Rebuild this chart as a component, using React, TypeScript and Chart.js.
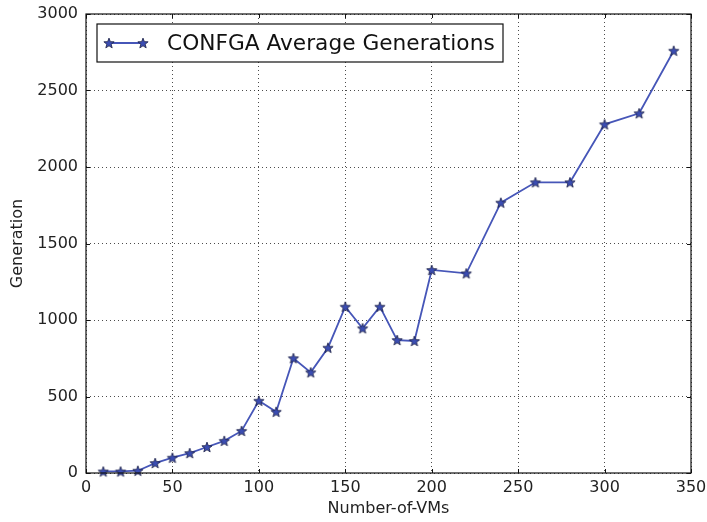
import React, { useEffect, useRef } from "react";
import { Chart, registerables } from "chart.js";

Chart.register(...registerables);

const vms = [10, 20, 30, 40, 50, 60, 70, 80, 90, 100, 110, 120, 130, 140, 150, 160, 170, 180, 190, 200, 220, 240, 260, 280, 300, 320, 340];
const generations = [10, 10, 15, 65, 100, 130, 170, 210, 275, 472, 400, 750, 658, 819, 1087, 946, 1087, 869, 863, 1327, 1305, 1767, 1900, 1900, 2279, 2351, 2760];
const seriesLabel = "CONFGA Average Generations";
const xTitle = "Number-of-VMs";
const yTitle = "Generation";
const xTicks = [0, 50, 100, 150, 200, 250, 300, 350];
const yTicks = [0, 500, 1000, 1500, 2000, 2500, 3000];

const FONT = "'DejaVu Sans', sans-serif";
const LINE_COLOR = "#4656b8";

function makeStar(): HTMLCanvasElement {
  const c = document.createElement("canvas");
  const s = 14;
  c.width = s;
  c.height = s;
  const ctx = c.getContext("2d")!;
  const cx = s / 2, cy = s / 2 + 0.5;
  const ro = 5.4, ri = 2.3;
  ctx.beginPath();
  for (let i = 0; i < 10; i++) {
    const r = i % 2 === 0 ? ro : ri;
    const a = -Math.PI / 2 + (i * Math.PI) / 5;
    const x = cx + r * Math.cos(a);
    const y = cy + r * Math.sin(a);
    if (i === 0) ctx.moveTo(x, y);
    else ctx.lineTo(x, y);
  }
  ctx.closePath();
  ctx.fillStyle = "#3b4db2";
  ctx.fill();
  ctx.lineWidth = 0.8;
  ctx.strokeStyle = "#1a1e44";
  ctx.stroke();
  return c;
}

export default function App() {
  const ref = useRef<HTMLCanvasElement>(null);
  useEffect(() => {
    const star = makeStar();
    const framePlugin = {
      id: "frame",
      afterDraw(chart: any) {
        const { ctx, chartArea: a, scales } = chart;
        ctx.save();
        ctx.strokeStyle = "#111";
        ctx.lineWidth = 1;
        ctx.beginPath();
        for (const v of xTicks) {
          const x = Math.round(scales.x.getPixelForValue(v)) + 0.5;
          ctx.moveTo(x, a.bottom);
          ctx.lineTo(x, a.bottom - 4);
          ctx.moveTo(x, a.top);
          ctx.lineTo(x, a.top + 4);
        }
        for (const v of yTicks) {
          const y = Math.round(scales.y.getPixelForValue(v)) + 0.5;
          ctx.moveTo(a.left, y);
          ctx.lineTo(a.left + 4, y);
          ctx.moveTo(a.right, y);
          ctx.lineTo(a.right - 4, y);
        }
        ctx.stroke();
        ctx.lineWidth = 1.2;
        ctx.strokeStyle = "#111";
        ctx.strokeRect(a.left, a.top, a.right - a.left, a.bottom - a.top);
        // legend
        const lx = a.left + 11, ly = a.top + 10, lw = 406, lh = 38;
        ctx.fillStyle = "#fff";
        ctx.fillRect(lx, ly, lw, lh);
        ctx.lineWidth = 1.2;
        ctx.strokeStyle = "#111";
        ctx.strokeRect(lx, ly, lw, lh);
        const my = ly + lh / 2;
        ctx.beginPath();
        ctx.strokeStyle = LINE_COLOR;
        ctx.lineWidth = 1.8;
        ctx.moveTo(lx + 12, my);
        ctx.lineTo(lx + 46, my);
        ctx.stroke();
        ctx.drawImage(star, lx + 12 - 7, my - 7);
        ctx.drawImage(star, lx + 46 - 7, my - 7);
        ctx.fillStyle = "#111";
        ctx.font = `21.7px ${FONT}`;
        ctx.textBaseline = "middle";
        ctx.textAlign = "left";
        ctx.fillText(seriesLabel, lx + 70, my + 1);
        ctx.restore();
      },
    };
    const chart = new Chart(ref.current!, {
      type: "line",
      data: {
        datasets: [
          {
            label: seriesLabel,
            data: vms.map((v, i) => ({ x: v, y: generations[i] })),
            borderColor: LINE_COLOR,
            borderWidth: 1.8,
            pointStyle: star as any,
            pointRadius: 6,
            clip: false as any,
            tension: 0,
          },
        ],
      },
      options: {
        animation: false,
        responsive: false,
        events: [],
        layout: { padding: { top: 14, right: 16, bottom: 0, left: 0 } },
        plugins: { legend: { display: false }, tooltip: { enabled: false } },
        scales: {
          x: {
            type: "linear",
            min: 0,
            max: 350,
            afterBuildTicks: (s: any) => {
              s.ticks = xTicks.map((v) => ({ value: v }));
            },
            afterFit: (s: any) => {
              s.height = 49;
              s.paddingLeft = 0;
              s.paddingRight = 0;
            },
            ticks: { font: { family: FONT, size: 16 }, color: "#222", padding: 5, maxRotation: 0, callback: (v: any) => String(v) },
            grid: { color: "rgba(0,0,0,0.7)", lineWidth: 1, drawTicks: false },
            border: { display: false, dash: [1, 3] },
            title: { display: true, text: xTitle, font: { family: FONT, size: 16 }, color: "#222", padding: { top: 0, bottom: 4 } },
          },
          y: {
            type: "linear",
            min: 0,
            max: 3000,
            afterBuildTicks: (s: any) => {
              s.ticks = yTicks.map((v) => ({ value: v }));
            },
            afterFit: (s: any) => {
              s.width = 86;
              s.paddingTop = 0;
              s.paddingBottom = 0;
            },
            ticks: { font: { family: FONT, size: 16 }, color: "#222", padding: 8, callback: (v: any) => String(v) },
            grid: { color: "rgba(0,0,0,0.7)", lineWidth: 1, drawTicks: false },
            border: { display: false, dash: [1, 3] },
            title: { display: true, text: yTitle, font: { family: FONT, size: 16 }, color: "#222", padding: { top: 8, bottom: 0 } },
          },
        },
      },
      plugins: [framePlugin],
    });
    return () => chart.destroy();
  }, []);
  return (
    <div style={{ position: "absolute", left: 0, top: 0, width: 707, height: 522, background: "#fff" }}>
      <canvas ref={ref} width={707} height={522} />
    </div>
  );
}
